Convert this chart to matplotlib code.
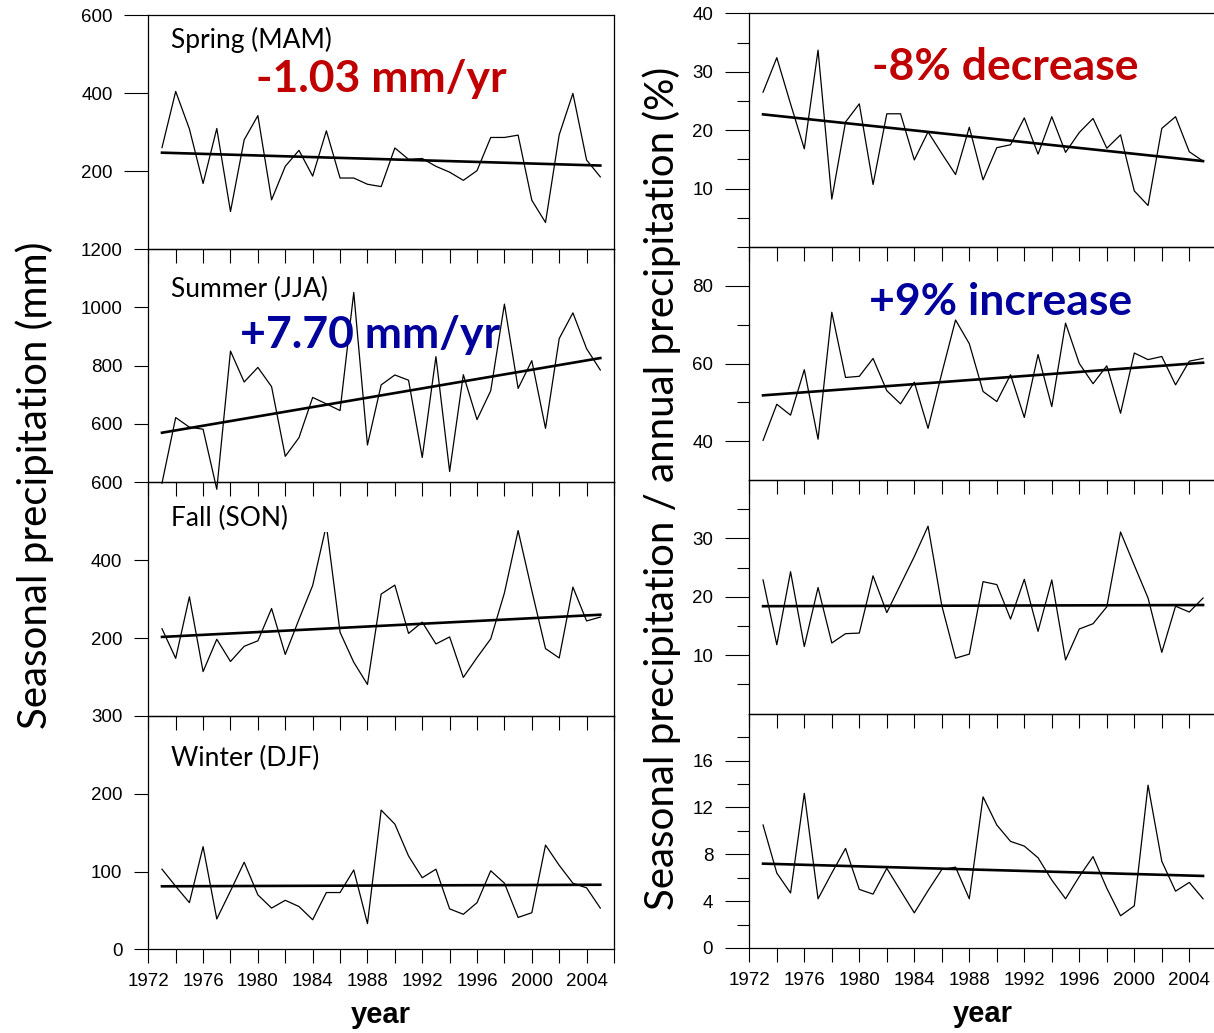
import numpy as np
import matplotlib
matplotlib.use('Agg')
import matplotlib.pyplot as plt
from matplotlib.patches import Rectangle

# --- data ---
years = np.arange(1973, 2006)
trend_years = [1973, 2005]

spring_mm = [260, 404, 308, 168, 309, 96, 280, 342, 126, 212, 253, 187, 303, 182, 182,
             166, 160, 259, 230, 232, 212, 197, 176, 201, 286, 286, 292, 125, 68, 293,
             399, 228, 185]
summer_mm = [397, 622, 589, 582, 376, 850, 744, 794, 728, 489, 553, 691, 669, 646, 1051,
             528, 734, 768, 750, 485, 831, 437, 769, 615, 714, 1011, 722, 817, 585, 893,
             981, 858, 785]
fall_mm = [224, 148, 306, 114, 197, 140, 179, 193, 276, 158, 248, 335, 490, 215, 138,
           81, 313, 336, 212, 241, 185, 203, 99, 150, 198, 316, 476, 322, 173, 149,
           331, 244, 254]
winter_mm = [103, 81, 60, 132, 39, 75, 112, 70, 53, 63, 55, 38, 73, 73, 102,
             33, 179, 161, 120, 92, 103, 52, 45, 60, 101, 85, 41, 47, 134, 108,
             85, 79, 53]

spring_pct = [26.5, 32.4, 24.5, 16.8, 33.7, 8.2, 21.4, 24.5, 10.7, 22.8, 22.8, 14.9, 19.7,
              16.0, 12.4, 20.5, 11.5, 17.0, 17.5, 22.1, 15.9, 22.3, 16.2, 19.6, 22.0,
              16.9, 19.2, 9.6, 7.1, 20.3, 22.3, 16.3, 14.7]
summer_pct = [40.2, 49.5, 46.7, 58.4, 40.5, 73.2, 56.4, 56.7, 61.3, 53.0, 49.6, 55.2, 43.3,
              57.5, 71.2, 65.1, 52.8, 50.2, 57.1, 46.1, 62.3, 48.9, 70.4, 60.0, 54.8,
              59.4, 47.2, 62.7, 61.0, 61.8, 54.5, 60.6, 61.3]
fall_pct = [22.9, 11.8, 24.3, 11.5, 21.6, 12.1, 13.7, 13.8, 23.6, 17.3, 22.1, 26.9, 32.1,
            18.5, 9.5, 10.2, 22.6, 22.1, 16.2, 23.0, 14.1, 22.9, 9.2, 14.5, 15.4,
            18.3, 31.1, 25.4, 19.8, 10.5, 18.4, 17.4, 19.8]
winter_pct = [10.5, 6.4, 4.7, 13.2, 4.2, 6.4, 8.5, 5.0, 4.6, 6.8, 4.9, 3.0, 4.9, 6.7, 6.9,
              4.2, 12.9, 10.5, 9.1, 8.7, 7.7, 5.8, 4.2, 6.1, 7.8, 5.1, 2.75, 3.6, 13.9,
              7.4, 4.85, 5.6, 4.2]

# trend line values at 1973 and 2005
spring_trend_mm = [247, 214]
summer_trend_mm = [570, 826]
fall_trend_mm = [203, 260]
winter_trend_mm = [81, 83]
spring_trend_pct = [22.7, 14.7]
summer_trend_pct = [51.8, 60.2]
fall_trend_pct = [18.4, 18.6]
winter_trend_pct = [7.2, 6.15]

season_names = ['Spring (MAM)', 'Summer (JJA)', 'Fall (SON)', 'Winter (DJF)']

# --- layout (figure pixels) ---
W, H = 1214, 1033
fig = plt.figure(figsize=(W / 100, H / 100), dpi=100)

sans = 'Liberation Sans'
callig = 'Lato'
red = '#C00000'
blue = '#00009C'


def add_ax(x0, x1, ytop, ybot):
    ax = fig.add_axes([x0 / W, 1 - ybot / H, (x1 - x0) / W, (ybot - ytop) / H])
    ax.set_facecolor('none')
    for s in ax.spines.values():
        s.set_linewidth(0.9)
    return ax


def style_x(ax, bottom):
    ax.set_xlim(1972, 2006)
    xt = list(range(1972, 2007, 2))
    ax.set_xticks(xt)
    if bottom:
        ax.set_xticklabels([str(y) if y % 4 == 0 else '' for y in xt])
    else:
        ax.set_xticklabels([])
    ax.tick_params(axis='x', direction='out', length=10, width=0.8, pad=7,
                   labelsize=13.5, top=False)
    for lab in ax.get_xticklabels():
        lab.set_fontfamily(sans)


left_edges = [15, 249, 482.3, 716, 949.3]
right_edges = [13.3, 247, 480, 713.7, 948]

left_series = [spring_mm, summer_mm, fall_mm, winter_mm]
left_trends = [spring_trend_mm, summer_trend_mm, fall_trend_mm, winter_trend_mm]
left_ylims = [(0, 600), (400, 1200), (0, 600), (0, 300)]
left_yticks = [[200, 400, 600], [600, 800, 1000, 1200], [200, 400, 600], [0, 100, 200, 300]]
left_ticklen = [17, 10, 10, 10]
label_y = [0.893, 0.828, 0.846, 0.82]

right_series = [spring_pct, summer_pct, fall_pct, winter_pct]
right_trends = [spring_trend_pct, summer_trend_pct, fall_trend_pct, winter_trend_pct]
right_ylims = [(0, 40), (30, 90), (0, 40), (0, 20)]
right_major = [[10, 20, 30, 40], [40, 60, 80], [10, 20, 30], [0, 4, 8, 12, 16]]
right_minor = [[5, 15, 25, 35], [50, 70, 90], [5, 15, 25, 35], [2, 6, 10, 14, 18]]

for i in range(4):
    # left column: mm
    ax = add_ax(148.3, 614, left_edges[i], left_edges[i + 1])
    ax.plot(years, left_series[i], color='black', lw=0.9, clip_on=False, zorder=2)
    ax.plot(trend_years, left_trends[i], color='black', lw=1.9, zorder=3)
    ax.set_ylim(*left_ylims[i])
    ax.set_yticks(left_yticks[i])
    ax.tick_params(axis='y', direction='out', length=left_ticklen[i], width=0.8, pad=8.6,
                   labelsize=13.5, right=False)
    for lab in ax.get_yticklabels():
        lab.set_fontfamily(sans)
    style_x(ax, i == 3)
    # white label box
    ax.add_patch(Rectangle((0.04, label_y[i] - 0.06), 0.36, 0.14, transform=ax.transAxes,
                           facecolor='white', edgecolor='none', zorder=4))
    ax.text(0.049, label_y[i], season_names[i], transform=ax.transAxes, ha='left',
            va='center', fontsize=19, family=callig, zorder=5)
    if i == 3:
        ax.set_xlabel('year', fontsize=21, fontweight='bold', family=sans, labelpad=8)

    # right column: % of annual
    axr = add_ax(749.3, 1216.8, right_edges[i], right_edges[i + 1])
    axr.plot(years, right_series[i], color='black', lw=0.9, clip_on=False, zorder=2)
    axr.plot(trend_years, right_trends[i], color='black', lw=1.9, zorder=3)
    axr.set_ylim(*right_ylims[i])
    axr.set_yticks(right_major[i])
    axr.set_yticks(right_minor[i], minor=True)
    axr.tick_params(axis='y', which='major', direction='out', length=17, width=0.8, pad=9,
                    labelsize=13.5, right=False)
    axr.tick_params(axis='y', which='minor', direction='out', length=8.6, width=0.8, right=False)
    for lab in axr.get_yticklabels():
        lab.set_fontfamily(sans)
    style_x(axr, i == 3)
    if i == 3:
        axr.set_xlabel('year', fontsize=21, fontweight='bold', family=sans, labelpad=8)

# trend annotations
fig.text(381 / W, 1 - 79 / H, '-1.03 mm/yr', color=red, fontsize=32, fontweight='bold',
         family=callig, ha='center', va='center')
fig.text(370 / W, 1 - 335 / H, '+7.70 mm/yr', color=blue, fontsize=32, fontweight='bold',
         family=callig, ha='center', va='center')
fig.text(1005 / W, 1 - 67 / H, '-8% decrease', color=red, fontsize=32, fontweight='bold',
         family=callig, ha='center', va='center')
fig.text(1001 / W, 1 - 302 / H, '+9% increase', color=blue, fontsize=32, fontweight='bold',
         family=callig, ha='center', va='center')

# axis titles
fig.text(35 / W, 1 - 485 / H, 'Seasonal precipitation (mm)', rotation=90, fontsize=29,
         family=callig, ha='center', va='center')
fig.text(662 / W, 1 - 488 / H, 'Seasonal precipitation / annual precipitation (%)',
         rotation=90, fontsize=29, family=callig, ha='center', va='center')

fig.savefig('out.png', dpi=100)
